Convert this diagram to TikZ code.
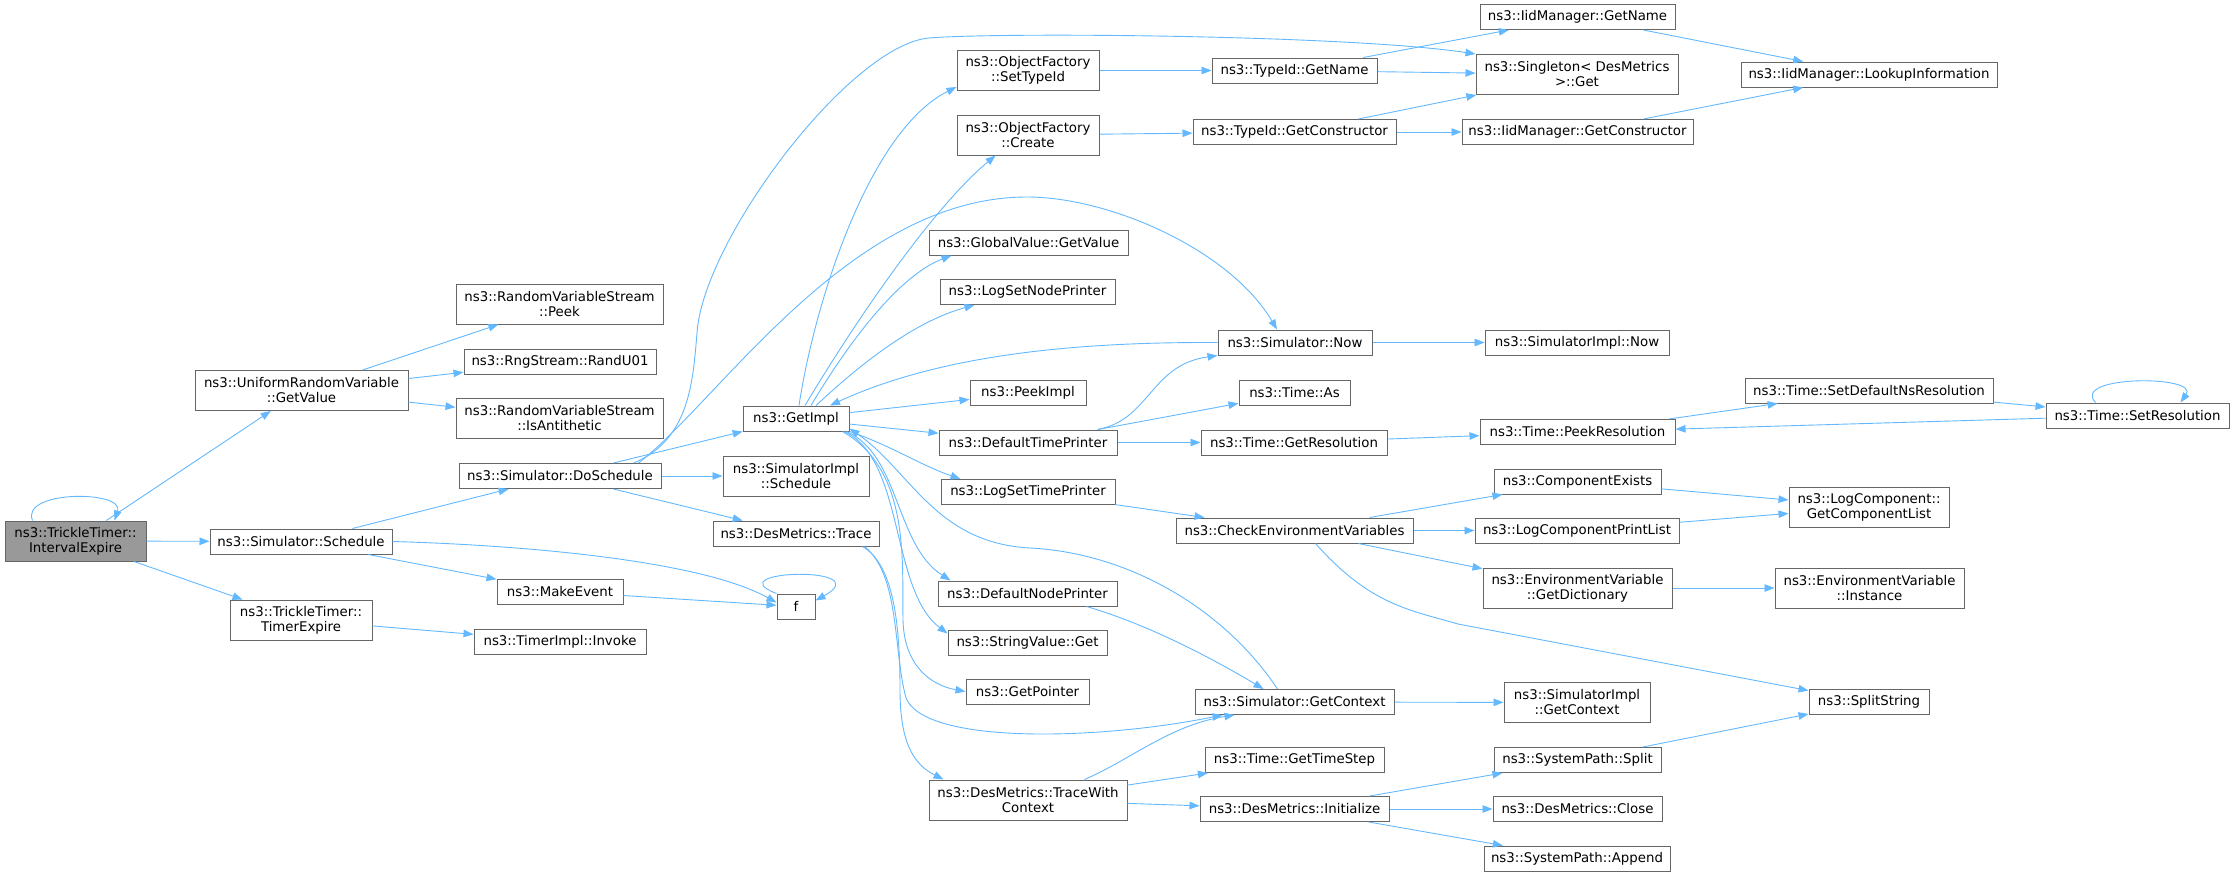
\documentclass[tikz,border=0pt]{standalone}
\usepackage{fontspec}
\setmainfont{DejaVu Sans}
\usetikzlibrary{arrows.meta,calc}
\definecolor{callblue}{HTML}{63B8FF}
\definecolor{boxline}{HTML}{666666}
\definecolor{rootfill}{HTML}{999999}
\tikzset{
	fn/.style={draw=boxline, line width=1pt, fill=white, minimum height=25, inner sep=0pt, align=center, font=\fontsize{13.33}{15}\selectfont},
	fntwo/.style={fn, minimum height=40},
	fnroot/.style={fntwo, fill=rootfill},
	call/.style={draw=callblue, line width=0.9pt, -{Triangle[length=10pt,width=7.5pt]}},
}

\begin{document}
\begin{tikzpicture}[x=1pt,y=-1pt]
		%%%%% START %%%%%
		\useasboundingbox (0,0) rectangle (2235,876);
		
		% column 0 and 1
		\node[fnroot, minimum width=141] (root) at (75.5,541) {ns3::TrickleTimer::\\IntervalExpire};
		\node[fntwo, minimum width=213] (urvget) at (301.5,390.5) {ns3::UniformRandomVariable\\::GetValue};
		\node[fn, minimum width=182] (simsched) at (301,541.5) {ns3::Simulator::Schedule};
		\node[fntwo, minimum width=142] (timerexp) at (301,620) {ns3::TrickleTimer::\\TimerExpire};
		
		% column 2
		\node[fntwo, minimum width=207] (peek) at (559.5,304) {ns3::RandomVariableStream\\::Peek};
		\node[fn, minimum width=192] (randu) at (560,361.5) {ns3::RngStream::RandU01};
		\node[fntwo, minimum width=207] (antith) at (559.5,418.5) {ns3::RandomVariableStream\\::IsAntithetic};
		\node[fn, minimum width=202] (dosched) at (560,476) {ns3::Simulator::DoSchedule};
		\node[fn, minimum width=126] (makeev) at (560,591.5) {ns3::MakeEvent};
		\node[fn, minimum width=172] (invoke) at (560,641.5) {ns3::TimerImpl::Invoke};
		
		% column 3
		\node[fn, minimum width=106] (getimpl) at (796,418.5) {ns3::GetImpl};
		\node[fntwo, minimum width=146] (implsched) at (796,476) {ns3::SimulatorImpl\\::Schedule};
		\node[fn, minimum width=166] (trace) at (796,533.5) {ns3::DesMetrics::Trace};
		\node[fn, minimum width=38] (f) at (796,606.5) {f};
		
		% column 4
		\node[fntwo, minimum width=142] (settype) at (1028,70.5) {ns3::ObjectFactory\\::SetTypeId};
		\node[fntwo, minimum width=142] (create) at (1028,135) {ns3::ObjectFactory\\::Create};
		\node[fn, minimum width=199] (gvget) at (1028.5,242.5) {ns3::GlobalValue::GetValue};
		\node[fn, minimum width=175] (lsnp) at (1027.5,292) {ns3::LogSetNodePrinter};
		\node[fn, minimum width=116] (peekimpl) at (1028,393) {ns3::PeekImpl};
		\node[fn, minimum width=178] (dtp) at (1028,442.5) {ns3::DefaultTimePrinter};
		\node[fn, minimum width=174] (lstp) at (1028,492) {ns3::LogSetTimePrinter};
		\node[fn, minimum width=179] (dnp) at (1027.5,593.5) {ns3::DefaultNodePrinter};
		\node[fn, minimum width=159] (svget) at (1027.5,642.5) {ns3::StringValue::Get};
		\node[fn, minimum width=123] (getptr) at (1027.5,691.5) {ns3::GetPointer};
		\node[fntwo, minimum width=198] (twc) at (1028,800) {ns3::DesMetrics::TraceWith\\Context};
		
		% column 5
		\node[fn, minimum width=165] (tidname) at (1294.5,70.5) {ns3::TypeId::GetName};
		\node[fn, minimum width=203] (tidctor) at (1294.5,132) {ns3::TypeId::GetConstructor};
		\node[fn, minimum width=154] (simnow) at (1295,342.5) {ns3::Simulator::Now};
		\node[fn, minimum width=111] (timeas) at (1294.5,393) {ns3::Time::As};
		\node[fn, minimum width=186] (getres) at (1294,442.5) {ns3::Time::GetResolution};
		\node[fn, minimum width=237] (checkenv) at (1294.5,530.5) {ns3::CheckEnvironmentVariables};
		\node[fn, minimum width=199] (getctx) at (1294.5,702) {ns3::Simulator::GetContext};
		\node[fn, minimum width=179] (timestep) at (1294.5,760) {ns3::Time::GetTimeStep};
		\node[fn, minimum width=189] (desinit) at (1294.5,809) {ns3::DesMetrics::Initialize};
		
		% column 6
		\node[fn, minimum width=195] (iidname) at (1577.5,17) {ns3::IidManager::GetName};
		\node[fntwo, minimum width=202] (singleton) at (1577,74.5) {ns3::Singleton< DesMetrics\\ >::Get};
		\node[fn, minimum width=231] (iidctor) at (1577.5,132) {ns3::IidManager::GetConstructor};
		\node[fn, minimum width=184] (implnow) at (1577,342.5) {ns3::SimulatorImpl::Now};
		\node[fn, minimum width=195] (peekres) at (1577.5,432) {ns3::Time::PeekResolution};
		\node[fn, minimum width=167] (compexists) at (1577.5,481.5) {ns3::ComponentExists};
		\node[fn, minimum width=204] (lcpl) at (1577,530.5) {ns3::LogComponentPrintList};
		\node[fntwo, minimum width=189] (getdict) at (1577.5,588) {ns3::EnvironmentVariable\\::GetDictionary};
		\node[fntwo, minimum width=146] (implctx) at (1577,702.5) {ns3::SimulatorImpl\\::GetContext};
		\node[fn, minimum width=167] (split) at (1577.5,760) {ns3::SystemPath::Split};
		\node[fn, minimum width=169] (close) at (1577.5,809) {ns3::DesMetrics::Close};
		\node[fn, minimum width=186] (append) at (1577,858.5) {ns3::SystemPath::Append};
		
		% column 7 and 8
		\node[fn, minimum width=256] (lookup) at (1869,74.5) {ns3::IidManager::LookupInformation};
		\node[fn, minimum width=248] (setdefns) at (1869,390.5) {ns3::Time::SetDefaultNsResolution};
		\node[fntwo, minimum width=160] (compl) at (1869,507) {ns3::LogComponent::\\GetComponentList};
		\node[fntwo, minimum width=189] (envinst) at (1869.5,588) {ns3::EnvironmentVariable\\::Instance};
		\node[fn, minimum width=120] (splitstr) at (1869,702) {ns3::SplitString};
		\node[fn, minimum width=183] (setres) at (2137.5,415.5) {ns3::Time::SetResolution};
		
		% self calls
		\draw[call] ($(root.north west)+(28,0)$) .. controls (20,490) and (125,490) .. ($(root.north west)+(110,0)$);
		\draw[call] (f.north west) .. controls (715,570) and (880,565) .. ($(f.east)+(0,-6)$);
		\draw[call] ($(setres.north west)+(50,0)$) .. controls (2070,375) and (2200,375) .. ($(setres.north west)+(135,0)$);
		
		% straight calls
		\draw[call] (root) -- (urvget);
		\draw[call] (root) -- (simsched);
		\draw[call] (root) -- (timerexp);
		\draw[call] (urvget) -- (peek);
		\draw[call] (urvget) -- (randu);
		\draw[call] (urvget) -- (antith);
		\draw[call] (simsched) -- (dosched);
		\draw[call] (simsched) -- (makeev);
		\draw[call] (timerexp) -- (invoke);
		\draw[call] (makeev) -- (f);
		\draw[call] (dosched) -- (getimpl);
		\draw[call] (dosched) -- (implsched);
		\draw[call] (dosched) -- (trace);
		\draw[call] (getimpl) -- (peekimpl);
		\draw[call] (getimpl) -- (dtp);
		\draw[call] (dtp) -- (timeas);
		\draw[call] (dtp) -- (getres);
		\draw[call] (lstp) -- (checkenv);
		\draw[call] (simnow) -- (implnow);
		\draw[call] (settype) -- (tidname);
		\draw[call] (create) -- (tidctor);
		\draw[call] (tidname) -- (iidname);
		\draw[call] (tidname) -- (singleton);
		\draw[call] (tidctor) -- (singleton);
		\draw[call] (tidctor) -- (iidctor);
		\draw[call] (iidname) -- (lookup);
		\draw[call] (iidctor) -- (lookup);
		\draw[call] (getres) -- (peekres);
		\draw[call] (peekres) -- (setdefns);
		\draw[call] (setdefns) -- (setres);
		\draw[call] (setres) -- (peekres);
		\draw[call] (checkenv) -- (compexists);
		\draw[call] (checkenv) -- (lcpl);
		\draw[call] (checkenv) -- (getdict);
		\draw[call] (compexists) -- (compl);
		\draw[call] (lcpl) -- (compl);
		\draw[call] (getdict) -- (envinst);
		\draw[call] (getctx) -- (implctx);
		\draw[call] (twc) -- (timestep);
		\draw[call] (twc) -- (desinit);
		\draw[call] (desinit) -- (split);
		\draw[call] (desinit) -- (close);
		\draw[call] (desinit) -- (append);
		\draw[call] (split) -- (splitstr);
		
		% curved calls
		\draw[call] ($(dosched.north west)+(175,0)$) .. controls (690,440) and (693,380) .. (697,333) .. controls (703,240) and (850,45) .. (929,38) .. controls (1000,32) and (1350,35) .. (singleton.north west);
		\draw[call] ($(dosched.north west)+(180,0)$) .. controls (720,400) and (850,197) .. (1027,197) .. controls (1110,197) and (1230,250) .. ($(simnow.north)+(-18,0)$);
		\draw[call] (simsched.east) .. controls (520,545) and (700,560) .. ($(f.west)+(0,-4)$);
		\draw[call] ($(getimpl.north)+(3,0)$) .. controls (815,300) and (870,130) .. ($(settype.south west)+(0,-4)$);
		\draw[call] ($(getimpl.north)+(9,0)$) .. controls (850,330) and (930,210) .. ($(create.south west)+(39,0)$);
		\draw[call] ($(getimpl.north)+(15,0)$) .. controls (850,340) and (900,275) .. ($(gvget.south west)+(23,0)$);
		\draw[call] ($(getimpl.north)+(20,0)$) .. controls (870,355) and (920,320) .. ($(lsnp.south west)+(35,0)$);
		\draw[call] (simnow.west) .. controls (1100,342) and (950,350) .. ($(getimpl.north)+(34,0)$);
		\draw[call] ($(dtp.north east)+(-20,0)$) .. controls (1150,420) and (1150,365) .. (simnow.south west);
		\draw[call] (getimpl.south east) .. controls (890,445) and (920,465) .. ($(lstp.north west)+(20,0)$);
		\draw[call] ($(getimpl.south east)+(-3,0)$) .. controls (900,455) and (895,545) .. ($(dnp.north west)+(13,0)$);
		\draw[call] ($(getimpl.south east)+(-5,0)$) .. controls (905,460) and (890,590) .. ($(svget.north west)+(0,4)$);
		\draw[call] ($(getimpl.south east)+(-7,0)$) .. controls (910,470) and (902,560) .. (903,620) .. controls (904,665) and (930,685) .. (getptr.west);
		\draw[call] ($(trace.south east)+(-17,0)$) .. controls (895,565) and (900,630) .. (900,690) .. controls (900,745) and (915,765) .. ($(twc.north west)+(15,0)$);
		\draw[call] ($(trace.south east)+(-15,0)$) .. controls (900,575) and (893,650) .. (906,698) .. controls (925,745) and (1100,740) .. ($(getctx.south west)+(28,0)$);
		\draw[call] ($(getctx.north west)+(83,0)$) .. controls (1225,610) and (1130,553) .. (1030,548) .. controls (935,543) and (910,470) .. ($(getimpl.south east)+(0,-3)$);
		\draw[call] ($(dnp.south east)+(-31,0)$) .. controls (1150,625) and (1215,660) .. ($(getctx.north west)+(69,0)$);
		\draw[call] ($(twc.north east)+(-43,0)$) .. controls (1130,760) and (1170,725) .. ($(getctx.south west)+(40,0)$);
		\draw[call] ($(checkenv.south west)+(140,0)$) .. controls (1370,605) and (1410,610) .. (1458,624) -- (splitstr);
		
		%%%%% END %%%%%
\end{tikzpicture}
\end{document}
